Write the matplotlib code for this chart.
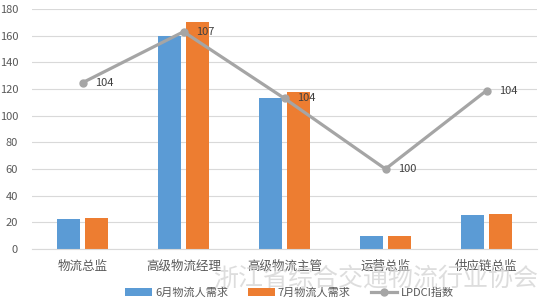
import matplotlib.pyplot as plt
import numpy as np

plt.rcParams['font.family'] = ['Noto Sans CJK SC', 'DejaVu Sans']

categories = ['物流总监', '高级物流经理', '高级物流主管', '运营总监', '供应链总监']
june_demand = [22.5, 160, 113, 10, 25.5]
july_demand = [23.5, 170, 118, 10, 26.5]
lpdci = [104.4, 107.0, 103.6, 100.0, 104.0]

blue = '#5B9BD5'
orange = '#ED7D31'
gray = '#A5A5A5'
text_col = '#595959'

fig = plt.figure(figsize=(5.41, 3.04), dpi=100)
ax = fig.add_axes([32 / 541, 55 / 304, 505 / 541, 240 / 304])

x = np.arange(len(categories))
w = 0.228
b1 = ax.bar(x - 0.143, june_demand, w, color=blue, label='6月物流人需求', zorder=2)
b2 = ax.bar(x + 0.143, july_demand, w, color=orange, label='7月物流人需求', zorder=2)

ax.set_ylim(0, 180)
ax.set_xlim(-0.5, len(categories) - 0.5)
ax.set_yticks(range(0, 181, 20))
ax.yaxis.grid(True, color='#D9D9D9', lw=0.8, zorder=0)
ax.set_axisbelow(True)
for s in ['top', 'right', 'left']:
    ax.spines[s].set_visible(False)
ax.spines['bottom'].set_color('#D9D9D9')
ax.tick_params(axis='both', length=0, colors=text_col)
ax.tick_params(axis='y', labelsize=8, pad=10)
ax.set_xticks(x)
ax.set_xticklabels(categories, fontsize=9, color=text_col)
ax.tick_params(axis='x', pad=8)

# LPDCI on hidden secondary axis
ax2 = ax.twinx()
ax2.set_ylim(95.92, 108.16)
ax2.axis('off')
ln, = ax2.plot(x, lpdci, color=gray, lw=2.3, marker='o', ms=5, label='LPDCI指数', zorder=3)
for xi, v in zip(x, lpdci):
    ax2.annotate(f'{v:.0f}', (xi, v), xytext=(9, 0), textcoords='offset points',
                 va='center', ha='left', fontsize=8, color='#404040')

fig.legend(handles=[b1, b2, ln], loc='center', bbox_to_anchor=(0.535, 11 / 304),
           ncol=3, frameon=False, fontsize=8, handlelength=2.4, handletextpad=0.3,
           columnspacing=1.8, labelcolor=text_col)

# watermark
fig.text(0.695, 25 / 304, '浙江省综合交通物流行业协会', fontsize=18, color='#CFCFCF',
         alpha=0.7, ha='center', va='center')

fig.savefig('out.png', dpi=100)
